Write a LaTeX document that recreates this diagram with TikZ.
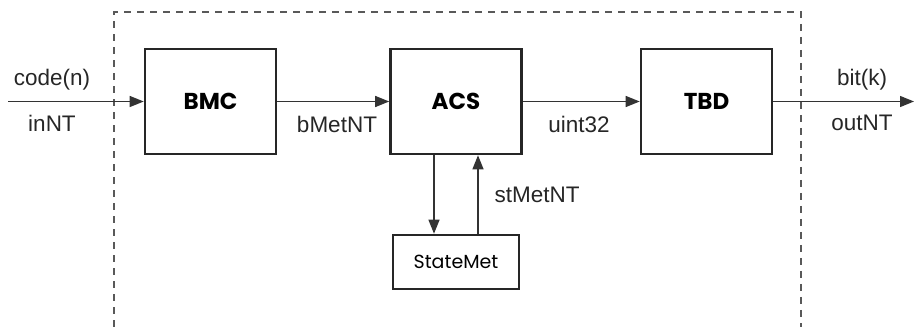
\documentclass[tikz,border=0pt]{standalone}
\usepackage{fontspec}
\setmainfont{Liberation Sans}
\newfontfamily\boxfont{Poppins}
\usetikzlibrary{arrows.meta}
\begin{document}
\begin{tikzpicture}[x=1pt,y=1pt,
  blk/.style={draw=black!85,line width=2.6pt,minimum width=131pt,minimum height=105pt,inner sep=0pt,
     font=\boxfont\bfseries\fontsize{23}{26}\selectfont},
  smallblk/.style={draw=black!85,line width=2.6pt,minimum width=126pt,minimum height=54pt,inner sep=0pt,
     font=\boxfont\fontsize{19}{22}\selectfont},
  conn/.style={line width=1.3pt,draw=black!80,-{Triangle[length=14pt,width=11pt]}},
  lbl/.style={font=\fontsize{22.5}{26}\selectfont,text=black!85,inner sep=0pt}
]
\useasboundingbox (0,0) rectangle (914,327);
% dashed boundary
\draw[line width=1.3pt,black!65,dash pattern=on 7pt off 6pt] (114,0) -- (114,315) -- (801,315) -- (801,0);
% blocks
\node[blk] (bmc) at (210.5,225.5) {BMC};
\node[blk] (acs) at (456,225.5) {ACS};
\node[blk] (tbd) at (706.5,225.5) {TBD};
\node[smallblk] (sm) at (456,65) {StateMet};
% ends
\coordinate (in) at (8,225.5);
\coordinate (out) at (914,225.5);
% connectors
\draw[conn] (in) -- (bmc.west);
\draw[conn] (bmc.east) -- (acs.west);
\draw[conn] (acs.east) -- (tbd.west);
\draw[conn] (tbd.east) -- (out);
\draw[conn] (acs.south -| 434,0) -- (sm.north -| 434,0);
\draw[conn] (sm.north -| 478,0) -- (acs.south -| 478,0);
% labels
\node[lbl] (l1) at (52,247) {code(n)};
\node[lbl] (l2) at (52,204) {inNT};
\node[lbl] (l3) at (337,203) {bMetNT};
\node[lbl] (l4) at (579,203) {uint32};
\node[lbl] (l5) at (537,132) {stMetNT};
\node[lbl] (l6) at (862,247) {bit(k)};
\node[lbl] (l7) at (862,204) {outNT};
\end{tikzpicture}
\end{document}
